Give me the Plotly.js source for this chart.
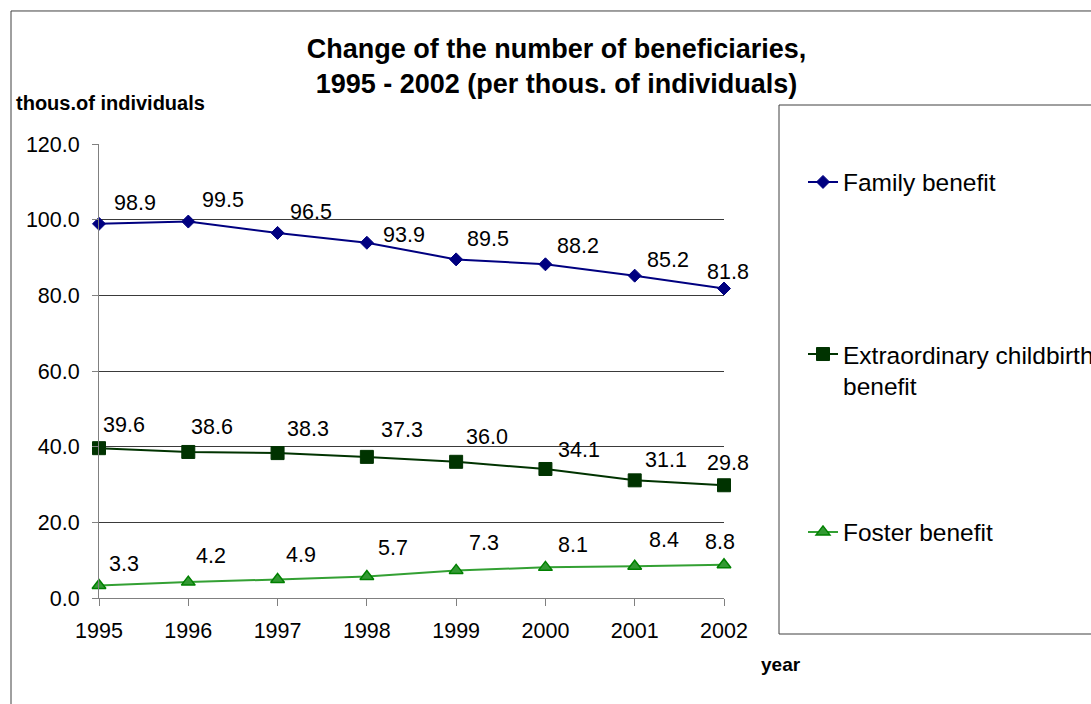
<!DOCTYPE html>
<html>
<head>
<meta charset="utf-8">
<script src="https://cdn.plot.ly/plotly-3.0.1.min.js"></script>
<style>
html,body{margin:0;padding:0;background:#fff;}
#chart{width:1091px;height:704px;}
</style>
</head>
<body>
<div id="chart"></div>
<script>
// ---- data ----
var years = [1995, 1996, 1997, 1998, 1999, 2000, 2001, 2002];
var yearLabels = ["1995", "1996", "1997", "1998", "1999", "2000", "2001", "2002"];
var familyBenefit = [98.9, 99.5, 96.5, 93.9, 89.5, 88.2, 85.2, 81.8];
var childbirthBenefit = [39.6, 38.6, 38.3, 37.3, 36.0, 34.1, 31.1, 29.8];
var fosterBenefit = [3.3, 4.2, 4.9, 5.7, 7.3, 8.1, 8.4, 8.8];
var seriesNames = ["Family benefit", "Extraordinary childbirth<br>benefit", "Foster benefit"];
var yTickValues = [0, 20, 40, 60, 80, 100, 120];

// ---- label offsets (pixels, styling only) ----
var familyDx = [36, 35, 33, 37, 32, 33, 33, 4];
var familyDy = [21, 22, 21, 8, 20, 18, 16, 17];
var childDx = [25, 24, 30, 35, 31, 34, 31, 4];
var childDy = [23, 25, 24, 27, 25, 19, 20, 22];
var fosterDx = [25, 23, 23, 26, 28, 28, 29, -4];
var fosterDy = [22, 26, 24, 28, 27, 22, 26, 23];

var FONT = "Liberation Sans, Arial, sans-serif";

var traces = [
  {
    x: years, y: familyBenefit, name: seriesNames[0], type: "scatter", mode: "lines+markers",
    line: {color: "#000080", width: 2},
    marker: {symbol: "diamond", size: 10, color: "#000080", line: {color: "#000080", width: 1}},
    cliponaxis: false, legend: "legend", hoverinfo: "x+y"
  },
  {
    x: years, y: childbirthBenefit, name: seriesNames[1], type: "scatter", mode: "lines+markers",
    line: {color: "#003300", width: 2},
    marker: {symbol: "square", size: 13, color: "#003300", line: {color: "#003300", width: 1}},
    cliponaxis: false, legend: "legend2", hoverinfo: "x+y"
  },
  {
    x: years, y: fosterBenefit, name: seriesNames[2], type: "scatter", mode: "lines+markers",
    line: {color: "#33a033", width: 2},
    marker: {symbol: "triangle-up", size: 12, color: "#339933", line: {color: "#008000", width: 1.5}},
    cliponaxis: false, legend: "legend3", hoverinfo: "x+y"
  }
];

var annotations = [];
function addLabels(vals, dx, dy) {
  for (var i = 0; i < years.length; i++) {
    annotations.push({
      x: years[i], y: vals[i], xref: "x", yref: "y",
      text: vals[i].toFixed(1), showarrow: false,
      xanchor: "center", yanchor: "middle",
      xshift: dx[i], yshift: dy[i],
      font: {family: FONT, size: 21.5, color: "#000"}
    });
  }
}
addLabels(familyBenefit, familyDx, familyDy);
addLabels(childbirthBenefit, childDx, childDy);
addLabels(fosterBenefit, fosterDx, fosterDy);

annotations.push({
  xref: "paper", yref: "paper", x: -0.136, y: 1.0903, xanchor: "left", yanchor: "middle",
  text: "<b>thous.of individuals</b>", showarrow: false,
  font: {family: FONT, size: 20, color: "#000"}
});
annotations.push({
  xref: "paper", yref: "paper", x: 1.0912, y: -0.1454, xanchor: "center", yanchor: "middle",
  text: "<b>year</b>", showarrow: false,
  font: {family: FONT, size: 19, color: "#000"}
});

var legendBase = {
  xanchor: "left", yanchor: "middle", bgcolor: "rgba(0,0,0,0)", borderwidth: 0,
  font: {family: FONT, size: 24.5, color: "#000"}, itemclick: false, itemdoubleclick: false,
  valign: "top"
};
function legendAt(x, y) {
  var o = {};
  for (var k in legendBase) o[k] = legendBase[k];
  o.x = x; o.y = y;
  return o;
}

var layout = {
  width: 1091, height: 704,
  margin: {l: 99, r: 367, t: 144, b: 106, pad: 0, autoexpand: false},
  paper_bgcolor: "#fff", plot_bgcolor: "#fff",
  font: {family: FONT, color: "#000"},
  title: {
    text: "<b>Change of the number of beneficiaries,<br>1995 - 2002 (per thous. of individuals)</b>",
    font: {family: FONT, size: 27, color: "#000"},
    xref: "container", yref: "container", x: 0.5101, y: 0.9178,
    xanchor: "center", yanchor: "middle"
  },
  xaxis: {
    type: "linear", range: [1995, 2002], tickvals: years, ticktext: yearLabels,
    showgrid: false, zeroline: false, showline: true, linecolor: "#808080", linewidth: 1,
    ticks: "outside", ticklen: 7, tickcolor: "#808080", tickwidth: 1,
    tickfont: {family: FONT, size: 21.5, color: "#000"}, ticklabelstandoff: 6,
    fixedrange: true, automargin: false
  },
  yaxis: {
    range: [0, 120], tickvals: yTickValues, tickformat: ".1f",
    showgrid: true, gridcolor: "#3a3a3a", gridwidth: 1,
    zeroline: false, showline: true, linecolor: "#808080", linewidth: 1,
    ticks: "outside", ticklen: 6, tickcolor: "#808080", tickwidth: 1,
    tickfont: {family: FONT, size: 21.5, color: "#000"}, ticklabelstandoff: 8,
    fixedrange: true, automargin: false
  },
  showlegend: true,
  legend: legendAt(1.1264, 0.9163),
  legend2: legendAt(1.1264, 0.502),
  legend3: legendAt(1.1264, 0.1454),
  annotations: annotations,
  shapes: [
    {type: "rect", xref: "paper", yref: "paper", x0: -0.1408, x1: 2.5, y0: -1, y1: 1.293,
     line: {color: "#404040", width: 1}, fillcolor: "rgba(0,0,0,0)"},
    {type: "rect", xref: "paper", yref: "paper", x0: 1.088, x1: 2.5, y0: -0.0793, y1: 1.0859,
     line: {color: "#404040", width: 1}, fillcolor: "rgba(0,0,0,0)"}
  ]
};

Plotly.newPlot("chart", traces, layout, {displayModeBar: false, staticPlot: true});
</script>
</body>
</html>
